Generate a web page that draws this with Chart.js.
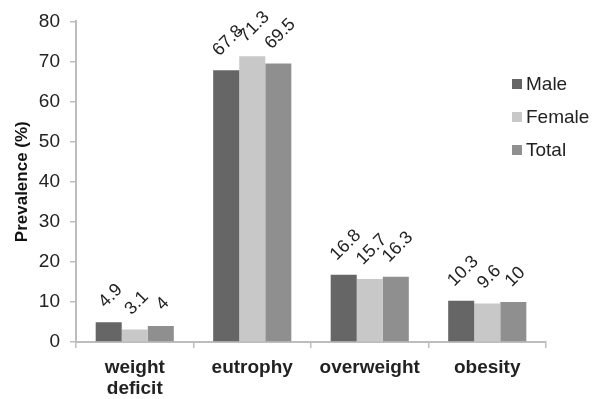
<!DOCTYPE html>
<html>
<head>
<meta charset="utf-8">
<script src="https://cdn.jsdelivr.net/npm/chart.js@4"></script>
<style>
  html, body { margin: 0; padding: 0; background: #fff; }
  #wrap { width: 598px; height: 399px; position: relative; }
</style>
</head>
<body>
<div id="wrap"><canvas id="prevChart"></canvas></div>
<script>
const categories = [["weight", "deficit"], "eutrophy", "overweight", "obesity"];
const seriesNames = ["Male", "Female", "Total"];
const maleValues = [4.9, 67.8, 16.8, 10.3];
const femaleValues = [3.1, 71.3, 15.7, 9.6];
const totalValues = [4, 69.5, 16.3, 10];
const yTicks = [0, 10, 20, 30, 40, 50, 60, 70, 80];

const colors = ["#666666", "#c8c8c8", "#8f8f8f"];
const FONT = "'Liberation Sans', Arial, Helvetica, sans-serif";

/* ---------- rotated value labels above bars ---------- */
const barLabels = {
  id: "barLabels",
  afterDatasetsDraw(chart) {
    const ctx = chart.ctx;
    ctx.save();
    ctx.font = "18px " + FONT;
    ctx.fillStyle = "#222";
    ctx.textAlign = "center";
    ctx.textBaseline = "middle";
    chart.data.datasets.forEach((ds, i) => {
      chart.getDatasetMeta(i).data.forEach((bar, j) => {
        const txt = String(ds.data[j]);
        const w = ctx.measureText(txt).width;
        const off = 19 + w * 0.3;
        ctx.save();
        ctx.translate(bar.x + 2, bar.y - off);
        ctx.rotate(-Math.PI / 4);
        ctx.fillText(txt, 0, 0);
        ctx.restore();
      });
    });
    ctx.restore();
  }
};

/* ---------- legend on the right ---------- */
const sideLegend = {
  id: "sideLegend",
  afterDraw(chart) {
    const ctx = chart.ctx;
    ctx.save();
    ctx.font = "19px " + FONT;
    ctx.textBaseline = "middle";
    ctx.textAlign = "left";
    chart.data.datasets.forEach((ds, i) => {
      const y = 84 + i * 33;
      ctx.fillStyle = ds.backgroundColor;
      ctx.fillRect(512, y - 5, 10, 10);
      ctx.fillStyle = "#222";
      ctx.fillText(ds.label, 526, y + 1);
    });
    ctx.restore();
  }
};

function initChart() {
  new Chart(document.getElementById("prevChart"), {
    type: "bar",
    data: {
      labels: categories,
      datasets: [
        { label: seriesNames[0], data: maleValues, backgroundColor: colors[0] },
        { label: seriesNames[1], data: femaleValues, backgroundColor: colors[1] },
        { label: seriesNames[2], data: totalValues, backgroundColor: colors[2] }
      ]
    },
    options: {
      responsive: true,
      maintainAspectRatio: false,
      animation: false,
      layout: { padding: { top: 19, right: 52, left: 12, bottom: 0 } },
      datasets: { bar: { barPercentage: 1, categoryPercentage: 0.665 } },
      plugins: { legend: { display: false }, tooltip: { enabled: false } },
      scales: {
        x: {
          grid: { display: true, drawOnChartArea: false, offset: true, tickLength: 6, color: "#bdbdbd", lineWidth: 1.5 },
          border: { color: "#bdbdbd", width: 2 },
          ticks: { color: "#222", font: { family: FONT, size: 19, weight: "bold", lineHeight: 1.1 }, padding: 9 },
          afterFit(s) { s.height = 57; }
        },
        y: {
          min: 0,
          max: 80,
          afterBuildTicks(s) { s.ticks = yTicks.map(v => ({ value: v })); },
          grid: { display: true, drawOnChartArea: false, tickLength: 6, color: "#bdbdbd", lineWidth: 1.5 },
          border: { color: "#bdbdbd", width: 2 },
          ticks: { color: "#222", font: { family: FONT, size: 19 }, padding: 10 },
          title: { display: true, text: "Prevalence (%)", color: "#111", font: { family: FONT, size: 17, weight: "bold" }, padding: 0 },
          afterFit(s) { s.width = 64; }
        }
      }
    },
    plugins: [barLabels, sideLegend]
  });
}

window.onload = initChart;
</script>
</body>
</html>
